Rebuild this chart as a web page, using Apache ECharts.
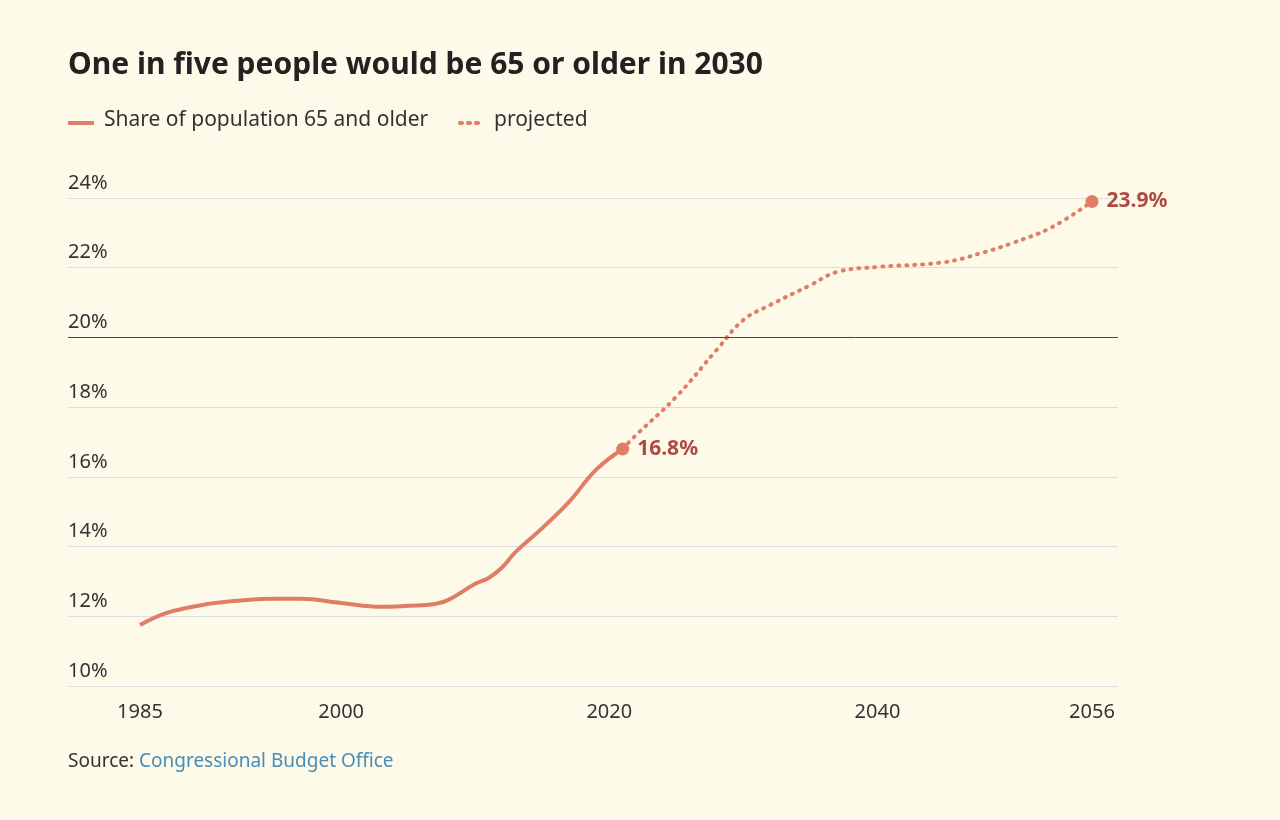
<!DOCTYPE html><html><head><meta charset="utf-8"><script src="https://cdn.jsdelivr.net/npm/echarts@6/dist/echarts.min.js"></script>
<style>body{margin:0;background:#fdfaea}#c{width:1280px;height:820px}</style></head><body><div id="c"></div><script>
const histYears=[1985,1987,1990,1993,1995,1997,2000,2003,2005,2007,2008,2010,2011,2012,2013,2015,2017,2019,2021];
const histVals=[11.75,12.1,12.35,12.47,12.5,12.5,12.38,12.27,12.3,12.35,12.47,12.93,13.1,13.4,13.84,14.53,15.28,16.2,16.8];
const projYears=[2021,2022,2025,2028,2030,2032,2035,2037,2040,2045,2048,2050,2053,2056];
const projVals=[16.8,17.2,18.3,19.64,20.5,20.93,21.5,21.88,22.02,22.16,22.45,22.7,23.16,23.9];
const xTicks=[1985,2000,2020,2040,2056];
const yTicks=[10,12,14,16,18,20,22,24];
const col='#e07d66', lab='#ad4a44';
const ch=echarts.init(document.getElementById('c'));
ch.setOption({backgroundColor:'#fdfaea',animation:false,
textStyle:{fontFamily:'"Noto Sans", sans-serif'},
title:{text:'One in five people would be 65 or older in 2030',left:63,top:45,textStyle:{fontSize:30,fontWeight:'bold',color:'#222',fontFamily:'"Noto Sans", sans-serif'}},
graphic:[
{type:'line',shape:{x1:68,y1:123,x2:94,y2:123},style:{stroke:col,lineWidth:4}},
{type:'text',left:104,top:110,style:{text:'Share of population 65 and older',fontSize:21,fill:'#333',fontFamily:'"Noto Sans", sans-serif'}},
{type:'line',shape:{x1:460,y1:123,x2:484,y2:123},style:{stroke:col,lineWidth:4,lineDash:[2,6],lineCap:'round'}},
{type:'text',left:494,top:110,style:{text:'projected',fontSize:21,fill:'#333',fontFamily:'"Noto Sans", sans-serif'}},
{type:'text',left:68,top:752,style:{rich:{a:{fontSize:19,fill:'#333',fontFamily:'"Noto Sans", sans-serif'},b:{fontSize:19,fill:'#4a8db5',fontFamily:'"Noto Sans", sans-serif'}},text:'{a|Source: }{b|Congressional Budget Office}'}}
],
grid:{left:68,right:162,top:198,bottom:134},
xAxis:{type:'value',min:1979.63,max:2057.94,axisLine:{show:false},axisTick:{show:false},splitLine:{show:false},
axisLabel:{customValues:xTicks,fontSize:20,color:'#333',margin:16,formatter:v=>String(v)}},
yAxis:{type:'value',min:10,max:24,interval:2,axisLine:{show:false},axisTick:{show:false},
axisLabel:{inside:true,verticalAlign:'bottom',align:'left',margin:0,fontSize:20,color:'#333',formatter:v=>v+'%',padding:[0,0,5,0]},
splitLine:{lineStyle:{color:'#ddd',width:1}}},
series:[
{type:'line',data:histYears.map((y,i)=>[y,histVals[i]]),smooth:0.4,symbol:'none',lineStyle:{color:col,width:4},
markLine:{silent:true,symbol:'none',label:{show:false},data:[{yAxis:20}],lineStyle:{color:'#444',width:1,type:'solid'}}},
{type:'line',data:projYears.map((y,i)=>[y,projVals[i]]),smooth:0.4,symbol:'none',lineStyle:{color:col,width:4,type:[1,7],cap:'round'}},
{type:'scatter',data:[[2021,16.8],[2056,23.9]],symbolSize:13,itemStyle:{color:col,opacity:1},
label:{show:true,position:'right',distance:8,formatter:p=>p.value[1].toFixed(1)+'%',fontSize:21,fontWeight:'bold',color:lab,fontFamily:'"Noto Sans", sans-serif'}}
]});
</script></body></html>
